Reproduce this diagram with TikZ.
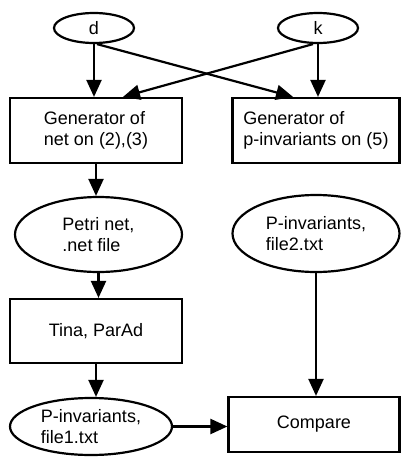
\documentclass[tikz,border=0pt]{standalone}
\usepackage{fontspec}
\setmainfont{Liberation Sans}
\usetikzlibrary{shapes.geometric,arrows.meta}

\tikzset{
  box/.style={draw, line width=2.2pt, rectangle, align=left, inner sep=0pt},
  oval/.style={draw, line width=2.2pt, ellipse, align=left, inner sep=0pt},
  flow/.style={line width=2.2pt, -{Triangle[length=17pt,width=15pt]}}
}

\begin{document}
\begin{tikzpicture}[x=1pt, y=-1pt, font=\fontsize{18}{20.5}\selectfont]
    \useasboundingbox (0,0) rectangle (401,464);
    % inputs
    \node[oval, minimum width=80pt, minimum height=30pt] (d) at (94,28) {d};
    \node[oval, minimum width=80pt, minimum height=30pt] (k) at (318,28) {k};
    % generators
    \node[box, minimum width=172pt, minimum height=65pt] (gnet) at (96,130.5) {Generator of\\net on (2),(3)};
    \node[box, minimum width=167pt, minimum height=65pt] (ginv) at (316,130.5) {Generator of\\p-invariants on (5)};
    % results
    \node[oval, minimum width=167pt, minimum height=75pt] (petri) at (98.5,234.5) {Petri net,\\.net file};
    \node[oval, minimum width=167pt, minimum height=77pt] (file2) at (316,233.5) {P-invariants,\\file2.txt};
    \node[box, minimum width=172pt, minimum height=64pt] (tina) at (96,331) {Tina, ParAd};
    \node[oval, minimum width=162pt, minimum height=57pt] (file1) at (91,426.5) {P-invariants,\\file1.txt};
    \node[box, minimum width=171pt, minimum height=55pt] (cmp) at (314,424.5) {Compare};

    \draw[flow] (d) -- (d |- gnet.north);
    \draw[flow] ([xshift=3pt]d.south) -- ([xshift=-23pt]ginv.north);
    \draw[flow] ([xshift=-5pt]k.south) -- ([xshift=27pt]gnet.north);
    \draw[flow] (k) -- (k |- ginv.north);
    \draw[flow] (gnet) -- (gnet |- petri.north);
    \draw[flow] (petri) -- (petri |- tina.north);
    \draw[flow] (tina) -- (tina |- file1.north);
    \draw[flow] (file1) -- (file1 -| cmp.west);
    \draw[flow] (file2) -- (file2 |- cmp.north);
\end{tikzpicture}
\end{document}
